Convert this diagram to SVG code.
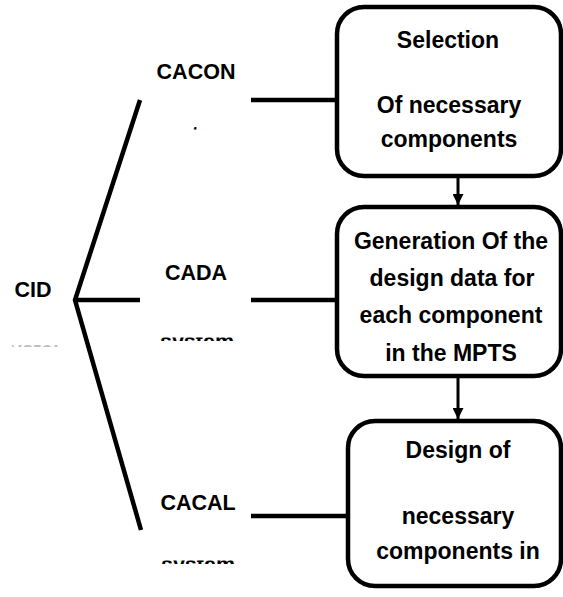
<svg xmlns="http://www.w3.org/2000/svg" width="563" height="597" viewBox="0 0 563 597">
  <style>
    .box { fill: #ffffff; stroke: #000000; stroke-width: 4.5; }
    .ln { fill: none; stroke: #000000; stroke-width: 4.5; stroke-linecap: butt; }
    .arr { fill: none; stroke: #000000; stroke-width: 3; }
    .t { font-family: "Liberation Sans", Arial, sans-serif; font-weight: bold; font-size: 21.5px; fill: #000000; text-anchor: middle; }
    .bt { font-family: "Liberation Sans", Arial, sans-serif; font-weight: bold; font-size: 23px; fill: #000000; text-anchor: middle; }
  </style>
  <defs>
    <marker id="head" viewBox="0 0 10 10" refX="10" refY="5" markerUnits="userSpaceOnUse" markerWidth="11" markerHeight="11" orient="auto">
      <path d="M0,0 L10,5 L0,10 z" fill="#000000"/>
    </marker>
    <clipPath id="clipCacon"><rect x="150" y="126.5" width="100" height="3"/></clipPath>
    <clipPath id="clipCada"><rect x="150" y="337.6" width="100" height="3.4"/></clipPath>
    <clipPath id="clipCacal"><rect x="150" y="560.6" width="100" height="3.4"/></clipPath>
    <clipPath id="clipCid"><rect x="12" y="345.6" width="46" height="1"/></clipPath>
  </defs>
  <rect width="563" height="597" fill="#ffffff"/>

  <g id="connectors">
    <polyline class="ln" points="140,100 75,300 141,530"/>
    <line class="ln" x1="75" y1="300" x2="140" y2="300"/>
    <line class="ln" x1="251" y1="100" x2="337" y2="100"/>
    <line class="ln" x1="251" y1="300" x2="337" y2="300"/>
    <line class="ln" x1="251" y1="516" x2="348" y2="516"/>
    <line class="arr" x1="458" y1="178" x2="458" y2="205" marker-end="url(#head)"/>
    <line class="arr" x1="458" y1="378" x2="458" y2="419" marker-end="url(#head)"/>
  </g>

  <g id="cid">
    <text class="t" x="33" y="297">CID</text>
    <text class="t" x="35" y="357" clip-path="url(#clipCid)" opacity="0.5">system</text>
  </g>

  <g id="cacon">
    <text class="t" x="196" y="79">CACON</text>
    <text class="t" x="193" y="142" clip-path="url(#clipCacon)">system</text>
  </g>

  <g id="cada">
    <text class="t" x="196" y="280">CADA</text>
    <text class="t" x="197" y="349" clip-path="url(#clipCada)">system</text>
  </g>

  <g id="cacal">
    <text class="t" x="198" y="510">CACAL</text>
    <text class="t" x="198" y="572" clip-path="url(#clipCacal)">system</text>
  </g>

  <g id="selection">
    <rect class="box" x="337" y="7" width="224" height="169" rx="27" ry="27"/>
    <text class="bt" x="448" y="48">Selection</text>
    <text class="bt" x="449" y="113">Of necessary</text>
    <text class="bt" x="449" y="147">components</text>
  </g>

  <g id="generation">
    <rect class="box" x="337" y="207" width="224" height="169" rx="27" ry="27"/>
    <text class="bt" x="451" y="249">Generation Of the</text>
    <text class="bt" x="452" y="286">design data for</text>
    <text class="bt" x="451" y="323">each component</text>
    <text class="bt" x="451" y="361">in the MPTS</text>
  </g>

  <g id="design">
    <rect class="box" x="348" y="421" width="213" height="165" rx="27" ry="27"/>
    <text class="bt" x="458" y="458">Design of</text>
    <text class="bt" x="458" y="524">necessary</text>
    <text class="bt" x="458" y="559">components in</text>
  </g>
</svg>
